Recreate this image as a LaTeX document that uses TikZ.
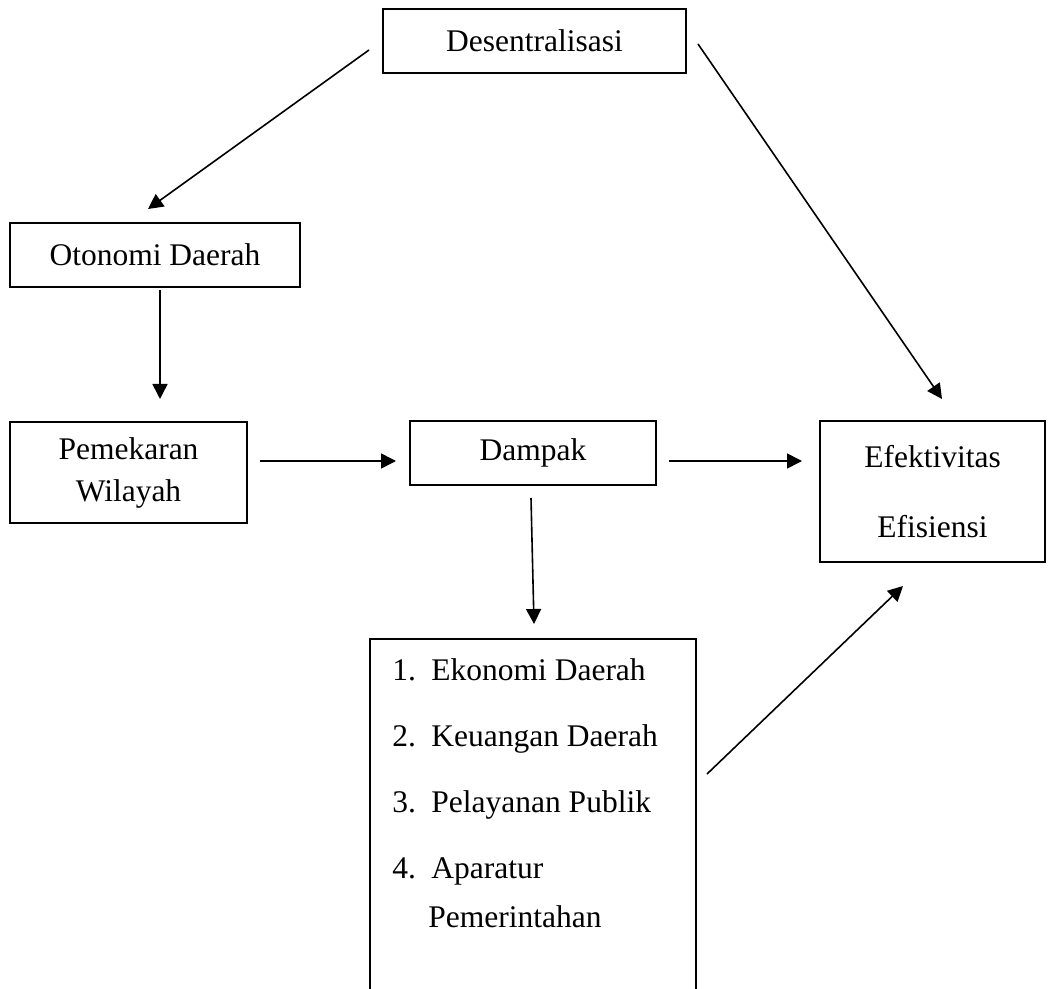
\documentclass[tikz,border=0pt]{standalone}
\usepackage{fontspec}
\setmainfont{Liberation Serif}
\usetikzlibrary{arrows.meta,calc}
\begin{document}
\begin{tikzpicture}[x=0.5pt,y=-0.5pt,
  box/.style={draw,line width=1pt,rectangle,inner sep=0pt,font=\fontsize{15.75}{21}\selectfont,align=center},
  arr/.style={line width=0.8pt,-{Triangle[length=7.5pt,width=7.5pt]}},
  txt/.style={font=\fontsize{15.75}{21}\selectfont,inner sep=0pt,anchor=base west}]
\useasboundingbox (0,0) rectangle (1054,989);
\clip (0,0) rectangle (1054,989);
\fill[white] (0,0) rectangle (1054,989);
% boxes
\node[box,minimum width=151.5pt,minimum height=32pt] (des) at (534.5,41) {Desentralisasi};
\node[box,minimum width=145pt,minimum height=32pt] (oto) at (155,255) {Otonomi Daerah};
\node[box,minimum width=118.5pt,minimum height=50.5pt] (pem) at (128.5,472.5) {Pemekaran\\Wilayah};
\node[box,minimum width=123pt,minimum height=32pt] (dam) at (533,453) {Dampak};
\node[box,minimum width=112.5pt,minimum height=70.5pt] (efe) at (932.5,491.5) {Efektivitas\\[14pt]Efisiensi};
\node[box,minimum width=163pt,minimum height=185.5pt] (lst) at (533,824.5) {};
% list items
\node[txt] (i1) at (392,680) {\makebox[19.5pt][l]{1.}Ekonomi Daerah};
\node[txt] (i2) at (392,746) {\makebox[19.5pt][l]{2.}Keuangan Daerah};
\node[txt] (i3) at (392,812) {\makebox[19.5pt][l]{3.}Pelayanan Publik};
\node[txt] (i4) at (392,878) {\makebox[19.5pt][l]{4.}Aparatur};
\node[txt] (i5) at (428,927) {Pemerintahan};
% connectors
\draw[arr] ($(des.west)+(-13,9)$) -- ($(oto.north)+(-7,-13)$);
\draw[arr] ($(des.east)+(11,3)$) -- ($(efe.north)+(9.5,-21)$);
\draw[arr] ($(oto.south)+(5,2)$) -- ($(pem.north)+(31.5,-22)$);
\draw[arr] ($(pem.east)+(12,-11.5)$) -- ($(dam.west)+(-13,8)$);
\draw[arr] ($(dam.east)+(12,8)$) -- ($(efe.west)+(-17,-30.5)$);
\draw[arr] ($(dam.south)+(-2,12)$) -- ($(lst.north)+(1,-14)$);
\draw[arr] ($(lst.east)+(10,-50.5)$) -- ($(efe.south)+(-29.5,23)$);
\end{tikzpicture}
\end{document}
